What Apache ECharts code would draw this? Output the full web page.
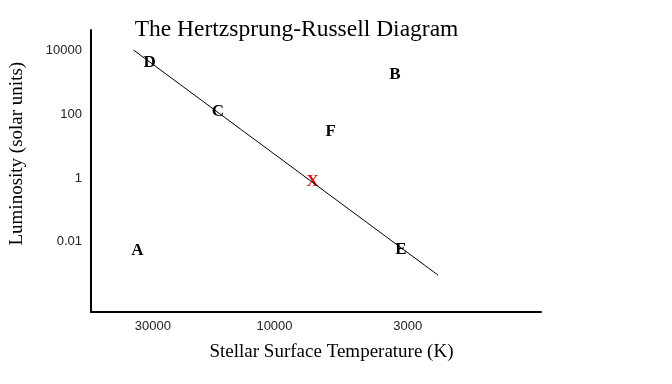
<!DOCTYPE html>
<html>
<head>
<meta charset="utf-8">
<script src="https://cdn.jsdelivr.net/npm/echarts@6/dist/echarts.min.js"></script>
<style>html,body{margin:0;padding:0;background:#fff}#c{width:672px;height:384px}</style>
</head>
<body>
<div id="c"></div>
<script>
// Star labels and their positions (temperature K, luminosity in solar units)
const starNames = ['D', 'C', 'F', 'B', 'X', 'A', 'E'];
const starTemps = [30900, 16660, 6020, 3370, 7080, 34500, 3190];
const starLums = [4240, 117, 28.2, 1680, 0.766, 0.0053, 0.0058];
// Main sequence line endpoints
const lineTemps = [35730, 2279];
const lineLums = [10210, 0.0009];
// Tick labels
const xTickLabels = [30000, 10000, 3000];
const yTickLabels = [10000, 100, 1, 0.01];

const chart = echarts.init(document.getElementById('c'), null, {renderer: 'canvas'});
const serif = '"Liberation Serif", "Times New Roman", serif';
const sans = '"Liberation Sans", Arial, sans-serif';

chart.setOption({
  animation: false,
  backgroundColor: '#fff',
  grid: {left: 91, right: 131, top: 30, bottom: 72, containLabel: false},
  xAxis: {
    type: 'log', inverse: true, min: 901, max: 52440,
    axisLine: {show: true, onZero: false, lineStyle: {color: '#000', width: 2}},
    axisTick: {show: false},
    splitLine: {show: false},
    axisLabel: {
      customValues: xTickLabels, margin: 8,
      color: '#222', fontFamily: sans, fontSize: 13,
      formatter: v => String(v)
    }
  },
  yAxis: {
    type: 'log', min: 6.36e-5, max: 43150,
    axisLine: {show: true, onZero: false, lineStyle: {color: '#000', width: 2}},
    axisTick: {show: false},
    splitLine: {show: false},
    axisLabel: {
      customValues: yTickLabels, margin: 9,
      color: '#222', fontFamily: sans, fontSize: 13,
      formatter: v => String(v)
    }
  },
  graphic: [
    {type: 'text', style: {x: 296.5, y: 29.5, text: 'The Hertzsprung-Russell Diagram', align: 'center', verticalAlign: 'middle', font: '23.5px ' + serif, fill: '#000'}},
    {type: 'text', style: {x: 331.5, y: 352, text: 'Stellar Surface Temperature (K)', align: 'center', verticalAlign: 'middle', font: '19px ' + serif, fill: '#000'}},
    {type: 'text', x: 17.5, y: 153.7, rotation: Math.PI / 2, style: {x: 0, y: 0, text: 'Luminosity (solar units)', align: 'center', verticalAlign: 'middle', font: '19px ' + serif, fill: '#000'}}
  ],
  series: [
    {
      type: 'line', symbol: 'none', silent: true,
      lineStyle: {color: '#000', width: 1},
      data: lineTemps.map((t, i) => [t, lineLums[i]])
    },
    {
      type: 'scatter', symbolSize: 1, silent: true,
      itemStyle: {color: 'rgba(0,0,0,0)', opacity: 1},
      label: {
        show: true, position: 'inside',
        formatter: p => p.name,
        fontFamily: serif, fontWeight: 'bold', fontSize: 17, color: '#000',
        textBorderWidth: 0, opacity: 1
      },
      data: starNames.map((n, i) => ({
        name: n, value: [starTemps[i], starLums[i]],
        label: n === 'X' ? {color: '#e01010'} : undefined
      }))
    }
  ]
});
</script>
</body>
</html>
